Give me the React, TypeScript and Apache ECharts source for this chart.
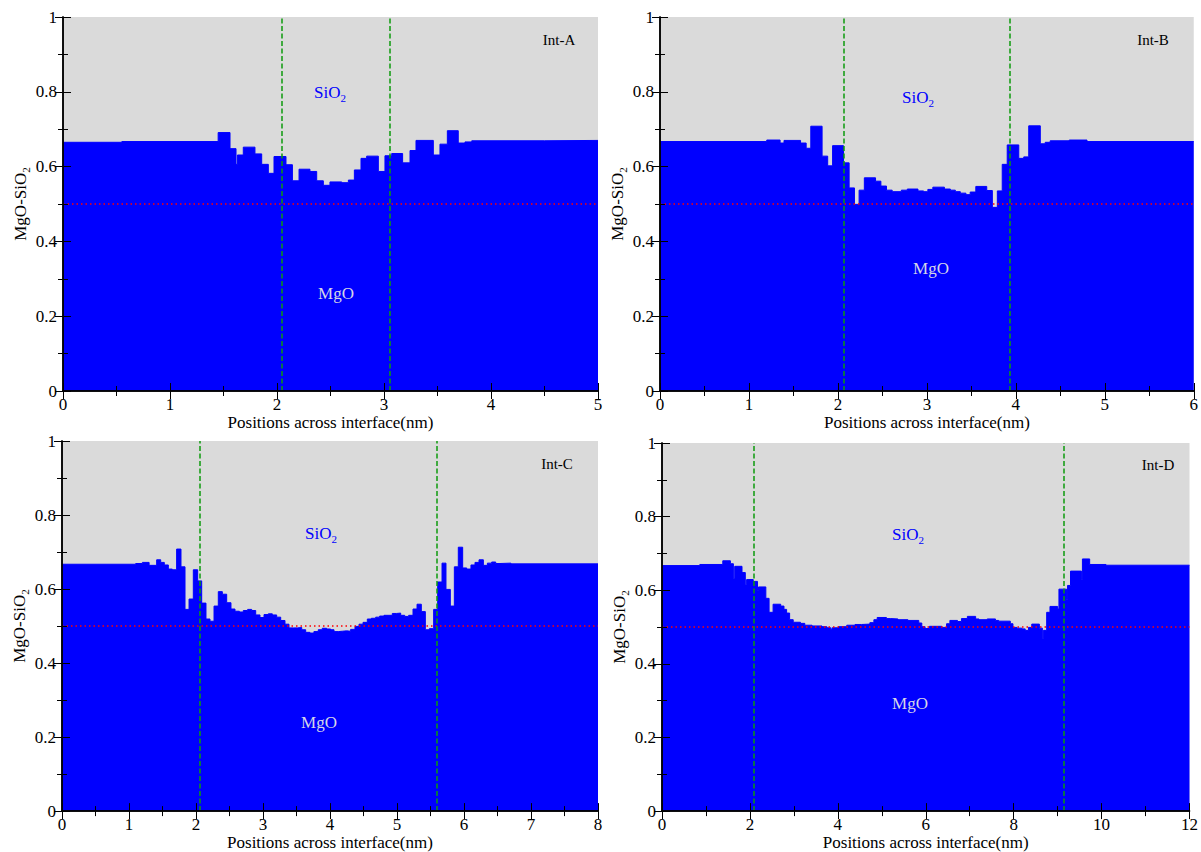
import React, { useEffect, useRef } from 'react';
import * as echarts from 'echarts';

const FONT = '"Liberation Serif", "Times New Roman", serif';

// [position (nm), MgO fraction] : each value holds until the next position
const profileA: [number, number][] = [
  [0, 0.665], [0.55, 0.667], [1.45, 0.691], [1.561, 0.648], [1.617, 0.606], [1.63, 0.631],
  [1.685, 0.652], [1.794, 0.634], [1.857, 0.606], [1.919, 0.582], [1.972, 0.627], [2.084, 0.605],
  [2.144, 0.562], [2.206, 0.593], [2.308, 0.587], [2.371, 0.562], [2.433, 0.55], [2.495, 0.559],
  [2.605, 0.557], [2.667, 0.564], [2.723, 0.591], [2.785, 0.622], [2.838, 0.628], [2.947, 0.587],
  [3.009, 0.629], [3.072, 0.635], [3.174, 0.61], [3.243, 0.643], [3.299, 0.67], [3.461, 0.631],
  [3.523, 0.66], [3.592, 0.696], [3.694, 0.663], [3.757, 0.666], [3.82, 0.669], [4.5, 0.67],
];

const profileB: [number, number][] = [
  [0, 0.667], [1.2, 0.671], [1.35, 0.663], [1.394, 0.67], [1.58, 0.663], [1.643, 0.649],
  [1.695, 0.708], [1.822, 0.628], [1.885, 0.602], [1.94, 0.656], [2.063, 0.61], [2.126, 0.543],
  [2.186, 0.499], [2.238, 0.537], [2.297, 0.57], [2.423, 0.561], [2.483, 0.548], [2.546, 0.537],
  [2.61, 0.533], [2.713, 0.537], [2.78, 0.54], [2.9, 0.535], [2.963, 0.533], [3.011, 0.539],
  [3.067, 0.545], [3.197, 0.54], [3.264, 0.537], [3.32, 0.533], [3.376, 0.529], [3.439, 0.525],
  [3.487, 0.532], [3.55, 0.547], [3.673, 0.536], [3.736, 0.491], [3.792, 0.535], [3.847, 0.606],
  [3.903, 0.658], [4.033, 0.622], [4.089, 0.626], [4.145, 0.709], [4.275, 0.661], [4.33, 0.665],
  [4.386, 0.669], [4.6, 0.671], [4.8, 0.667],
];

const profileC: [number, number][] = [
  [0, 0.667], [1.1, 0.669], [1.2, 0.672], [1.3, 0.664], [1.413, 0.679], [1.473, 0.672],
  [1.527, 0.665], [1.587, 0.654], [1.646, 0.652], [1.711, 0.708], [1.776, 0.66], [1.836, 0.545],
  [1.896, 0.573], [1.96, 0.652], [2.025, 0.622], [2.085, 0.562], [2.149, 0.519], [2.209, 0.513],
  [2.269, 0.554], [2.333, 0.593], [2.393, 0.586], [2.458, 0.563], [2.522, 0.546], [2.582, 0.54],
  [2.647, 0.538], [2.706, 0.542], [2.771, 0.545], [2.831, 0.542], [2.891, 0.53], [2.955, 0.523],
  [3.015, 0.531], [3.079, 0.533], [3.139, 0.53], [3.204, 0.524], [3.264, 0.515], [3.328, 0.505],
  [3.388, 0.495], [3.452, 0.495], [3.512, 0.496], [3.578, 0.49], [3.637, 0.483], [3.7, 0.481],
  [3.76, 0.485], [3.825, 0.49], [3.885, 0.494], [3.95, 0.492], [4.01, 0.49], [4.06, 0.485],
  [4.124, 0.486], [4.184, 0.487], [4.248, 0.486], [4.308, 0.491], [4.373, 0.499], [4.433, 0.505],
  [4.493, 0.51], [4.557, 0.519], [4.617, 0.521], [4.682, 0.524], [4.741, 0.527], [4.806, 0.529],
  [4.866, 0.529], [4.93, 0.534], [4.99, 0.535], [5.055, 0.529], [5.115, 0.526], [5.174, 0.529],
  [5.239, 0.546], [5.299, 0.559], [5.363, 0.539], [5.423, 0.49], [5.483, 0.493], [5.547, 0.545],
  [5.607, 0.619], [5.672, 0.67], [5.731, 0.599], [5.796, 0.554], [5.856, 0.66], [5.915, 0.713],
  [5.98, 0.657], [6.04, 0.654], [6.104, 0.665], [6.164, 0.672], [6.224, 0.679], [6.289, 0.664],
  [6.349, 0.67], [6.413, 0.673], [6.473, 0.669], [6.537, 0.67], [6.7, 0.668],
];

const profileD: [number, number][] = [
  [0, 0.667], [0.86, 0.67], [1.383, 0.68], [1.556, 0.672], [1.624, 0.632], [1.654, 0.665],
  [1.82, 0.648], [1.895, 0.615], [1.925, 0.629], [2.075, 0.624], [2.173, 0.6], [2.195, 0.609],
  [2.362, 0.578], [2.436, 0.54], [2.527, 0.562], [2.7, 0.557], [2.775, 0.548], [2.835, 0.538],
  [2.903, 0.52], [2.985, 0.513], [3.15, 0.51], [3.248, 0.505], [3.414, 0.503], [3.639, 0.501],
  [3.75, 0.498], [3.84, 0.494], [3.87, 0.498], [4.015, 0.501], [4.203, 0.505], [4.391, 0.507],
  [4.541, 0.508], [4.729, 0.512], [4.82, 0.52], [4.895, 0.526], [5.105, 0.523], [5.195, 0.522],
  [5.368, 0.52], [5.594, 0.518], [5.842, 0.511], [5.91, 0.501], [5.985, 0.496], [6.083, 0.502],
  [6.368, 0.499], [6.474, 0.509], [6.549, 0.518], [6.722, 0.515], [6.812, 0.523], [6.947, 0.529],
  [7.135, 0.522], [7.21, 0.52], [7.398, 0.522], [7.586, 0.518], [7.66, 0.516], [7.924, 0.509],
  [7.984, 0.499], [8.074, 0.497], [8.187, 0.495], [8.262, 0.491], [8.337, 0.499], [8.412, 0.508],
  [8.585, 0.497], [8.653, 0.468], [8.676, 0.491], [8.751, 0.54], [8.826, 0.556], [9.0, 0.549],
  [9.03, 0.603], [9.203, 0.575], [9.226, 0.613], [9.293, 0.652], [9.541, 0.63], [9.564, 0.685],
  [9.729, 0.67], [10.1, 0.668],
];

const boundsA = [2.04, 3.048];
const boundsB = [2.074, 3.93];
const boundsC = [2.055, 5.595];
const boundsD = [2.08, 9.155];

const panelNames = ['Int-A', 'Int-B', 'Int-C', 'Int-D'];
const xMaxes = [5, 6, 8, 12];
const xIntervals = [1, 1, 1, 2];
const stoichiometric = 0.5;

const panels = [
  { profile: profileA, bounds: boundsA, grid: { left: 63, top: 17, width: 535, height: 374 }, sio2: [330, 92], mgo: [336, 293], tag: [559, 40] },
  { profile: profileB, bounds: boundsB, grid: { left: 660, top: 17, width: 538, height: 374 }, sio2: [918, 97], mgo: [931, 268], tag: [1153, 40] },
  { profile: profileC, bounds: boundsC, grid: { left: 62, top: 441, width: 536, height: 374 }, sio2: [321, 533], mgo: [319, 722], tag: [557, 464] },
  { profile: profileD, bounds: boundsD, grid: { left: 662, top: 443, width: 532, height: 372 }, sio2: [908, 534], mgo: [910, 703], tag: [1158, 465] },
];

function buildOption() {
  const grid: any[] = [];
  const xAxis: any[] = [];
  const yAxis: any[] = [];
  const series: any[] = [];
  const graphic: any[] = [];

  const tick = { show: true, inside: true, length: 8, lineStyle: { color: '#000', width: 1 } };
  const minor = { show: true, splitNumber: 2, length: 5, lineStyle: { color: '#000', width: 1 } };
  const axisLine = { show: true, lineStyle: { color: '#000', width: 1.5 } };
  const label = { fontFamily: FONT, fontSize: 17, color: '#000' };

  panels.forEach((p, i) => {
    grid.push({ ...p.grid, show: true, backgroundColor: '#dadada', borderWidth: 0 });
    const xBase = { type: 'value', gridIndex: i, min: 0, max: xMaxes[i], interval: xIntervals[i], z: 10, splitLine: { show: false }, axisLine, axisTick: tick, minorTick: minor };
    const yBase = { type: 'value', gridIndex: i, min: 0, max: 1, interval: 0.2, z: 10, splitLine: { show: false }, axisLine, axisTick: tick, minorTick: minor };
    xAxis.push({
      ...xBase, position: 'bottom',
      axisLabel: { ...label, margin: 5, showMinLabel: true, showMaxLabel: true },
      name: 'Positions across interface(nm)', nameLocation: 'middle', nameGap: 21,
      nameTextStyle: { fontFamily: FONT, fontSize: 17, color: '#000' },
    });
    xAxis.push({ ...xBase, position: 'top', axisLabel: { show: false } });
    yAxis.push({
      ...yBase, position: 'left',
      axisLabel: { ...label, margin: 6 },
      name: '{m|MgO-SiO}{s|2}', nameLocation: 'middle', nameGap: 32,
      nameTextStyle: {
        rich: {
          m: { fontFamily: FONT, fontSize: 17, color: '#000', lineHeight: 22 },
          s: { fontFamily: FONT, fontSize: 11, color: '#000', lineHeight: 11, verticalAlign: 'bottom' },
        },
      },
    });
    yAxis.push({ ...yBase, position: 'right', axisLabel: { show: false } });

    const data = [...p.profile, [xMaxes[i], p.profile[p.profile.length - 1][1]]];
    series.push({
      type: 'line',
      xAxisIndex: i * 2,
      yAxisIndex: i * 2,
      step: 'end',
      symbol: 'none',
      data,
      lineStyle: { color: '#0000ff', width: 1 },
      areaStyle: { color: '#0000ff', opacity: 1 },
      z: 2,
      markLine: {
        silent: true,
        symbol: ['none', 'none'],
        label: { show: false },
        data: [
          { yAxis: stoichiometric, lineStyle: { color: '#ff0000', type: [1.5, 3], width: 1.5 } },
          ...p.bounds.map((b) => ({ xAxis: b, lineStyle: { color: '#0c9a0c', type: [5, 2.5], width: 1.5 } })),
        ],
      },
    });

    graphic.push({
      type: 'text', x: p.sio2[0], y: p.sio2[1], z: 100,
      style: {
        text: '{m|SiO}{s|2}', align: 'center', verticalAlign: 'middle',
        rich: {
          m: { fontFamily: FONT, fontSize: 17, fill: '#0000ff', lineHeight: 22 },
          s: { fontFamily: FONT, fontSize: 11, fill: '#0000ff', lineHeight: 11, verticalAlign: 'bottom' },
        },
      },
    });
    graphic.push({
      type: 'text', x: p.mgo[0], y: p.mgo[1], z: 100,
      style: { text: 'MgO', align: 'center', verticalAlign: 'middle', fontFamily: FONT, fontSize: 17, fill: '#d4d4e8' },
    });
    graphic.push({
      type: 'text', x: p.tag[0], y: p.tag[1], z: 100,
      style: { text: panelNames[i], align: 'center', verticalAlign: 'middle', fontFamily: FONT, fontSize: 15, fill: '#000' },
    });
  });

  return { animation: false, backgroundColor: '#ffffff', grid, xAxis, yAxis, series, graphic };
}

export default function App() {
  const ref = useRef<HTMLDivElement>(null);
  useEffect(() => {
    const chart = echarts.init(ref.current!, null, { renderer: 'svg' });
    chart.setOption(buildOption() as any);
    return () => chart.dispose();
  }, []);
  return (
    <div
      ref={ref}
      style={{ position: 'fixed', left: 0, top: 0, width: 1201, height: 852, background: '#fff' }}
    />
  );
}
